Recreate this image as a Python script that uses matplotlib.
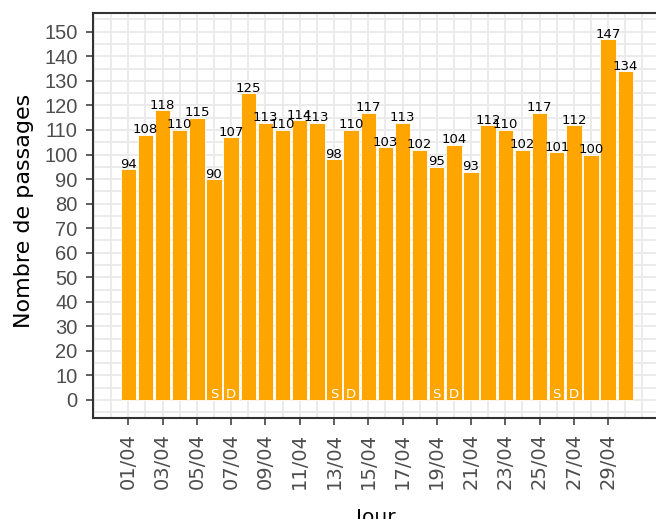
import matplotlib
matplotlib.use("Agg")
import matplotlib.pyplot as plt
import numpy as np

# Daily counts for April
jours = ["01/04", "02/04", "03/04", "04/04", "05/04", "06/04", "07/04", "08/04",
         "09/04", "10/04", "11/04", "12/04", "13/04", "14/04", "15/04", "16/04",
         "17/04", "18/04", "19/04", "20/04", "21/04", "22/04", "23/04", "24/04",
         "25/04", "26/04", "27/04", "28/04", "29/04", "30/04"]
passages = [94, 108, 118, 110, 115, 90, 107, 125, 113, 110, 114, 113, 98, 110, 117,
            103, 113, 102, 95, 104, 93, 112, 110, 102, 117, 101, 112, 100, 147, 134]
# Weekend markers (Samedi / Dimanche)
weekend = ["", "", "", "", "", "S", "D", "", "", "", "", "", "S", "D", "",
           "", "", "", "S", "D", "", "", "", "", "", "S", "D", "", "", ""]
y_ticks = list(range(0, 151, 10))

W, H = 656, 519
fig = plt.figure(figsize=(W / 100, H / 100), dpi=100)
left, right, top, bottom = 93.3, 659.6, 12.7, 417.7
ax = fig.add_axes([left / W, 1 - bottom / H, (right - left) / W, (bottom - top) / H])

x = np.arange(len(jours))
grid_col = "#EBEBEB"
for v in np.arange(-2, 32):
    ax.axvline(v, color=grid_col, lw=1.4, zorder=0)
for v in np.arange(-5, 160, 5):
    ax.axhline(v, color=grid_col, lw=1.4, zorder=0)

ax.bar(x, passages, width=0.9, color="#FFA500", edgecolor="white",
       linewidth=0.6, zorder=2)

for xi, v in zip(x, passages):
    ax.text(xi, v + 0.6, str(v), ha="center", va="baseline", fontsize=9.5,
            color="black", family="DejaVu Sans", zorder=3)
for xi, s in zip(x, weekend):
    if s:
        ax.text(xi, 1.0, s, ha="center", va="baseline", fontsize=9.5,
                color="white", family="DejaVu Sans", zorder=3)

ax.set_xlim(-2.04, 31.0)
ax.set_ylim(-7.21, 157.76)

ax.set_xticks(x[::2])
ax.set_xticklabels(jours[::2], rotation=90, fontsize=14, color="#4D4D4D",
                   family="DejaVu Sans")
ax.set_yticks(y_ticks)
ax.set_yticklabels([str(t) for t in y_ticks], fontsize=14.5, color="#4D4D4D",
                   family="Liberation Sans")
ax.tick_params(axis="both", direction="out", length=4.75, width=1.1,
               color="#333333", pad=6.5)

for sp in ax.spines.values():
    sp.set_color("#333333")
    sp.set_linewidth(1.5)

fig.text(24 / W, 1 - 211 / H, "Nombre de passages", rotation=90, ha="center",
         va="center", fontsize=16, color="black", family="DejaVu Sans")
fig.text(376 / W, (H - 523) / H, "Jour", ha="center", va="baseline",
         fontsize=14.5, color="black", family="DejaVu Sans")

fig.savefig("out.png", dpi=100)
